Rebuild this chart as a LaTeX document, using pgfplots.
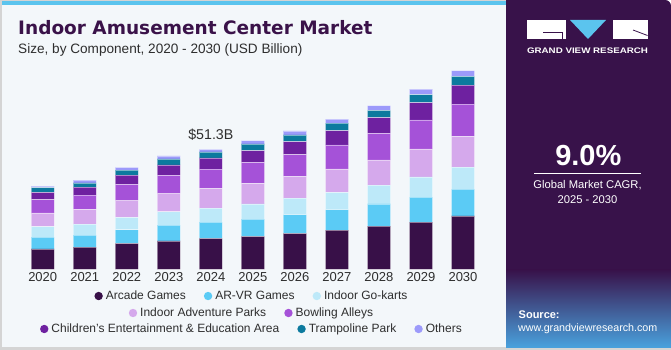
\documentclass[border=0pt]{standalone}
\usepackage{pgfplots}
\usepackage{pgfplotstable}
\pgfplotsset{compat=1.18}
\usepackage{fontspec}
\setmainfont{Liberation Sans}
\newfontfamily\titlefont{DejaVu Sans}
\definecolor{c1}{HTML}{381048}
\definecolor{c2}{HTML}{5BCBF5}
\definecolor{c3}{HTML}{BDE9F9}
\definecolor{c4}{HTML}{D5A9EC}
\definecolor{c5}{HTML}{A552D8}
\definecolor{c6}{HTML}{6E21A0}
\definecolor{c7}{HTML}{0C7A9E}
\definecolor{c8}{HTML}{9C9AFA}
\definecolor{bgl}{HTML}{F3F7FA}
\definecolor{panel}{HTML}{38124A}
\definecolor{strip}{HTML}{5BC4EE}
\definecolor{titlec}{HTML}{3A1249}
\definecolor{txt}{HTML}{2E2E2E}
\definecolor{edge}{HTML}{D4D4D4}
\definecolor{glow}{HTML}{4AA6E2}

\pgfplotstableread{
year arcade arvr kart adv bowl child tramp other
2020 8.7 5.1 4.4 5.9 5.7 3.1 2.0 0.7
2021 9.5 5.1 4.7 6.3 6.1 3.4 1.8 1.2
2022 11.1 5.8 5.3 7.1 7.0 4.0 2.1 1.2
2023 12.1 6.8 5.7 7.7 7.9 4.4 2.6 1.3
2024 13.2 7.0 6.0 8.3 8.3 4.8 2.6 1.1
2025 14.1 7.4 6.5 8.7 9.0 5.0 2.9 1.4
2026 15.4 8.0 7.0 9.2 9.4 5.6 2.9 1.7
2027 16.8 8.7 7.4 10.0 10.3 6.1 3.2 1.7
2028 18.5 9.5 8.0 10.8 11.3 6.7 3.2 2.0
2029 20.2 10.7 8.6 12.0 12.4 7.4 3.4 2.3
2030 22.8 11.5 9.4 13.1 13.8 8.1 3.8 2.4
}\datatable

\pgfplotsset{
  dotleg/.style={legend image code/.code={\fill[##1,draw=none] (4.2pt,0pt) circle (4.2pt);}},
  legrow/.style={
    legend columns=-1,
    legend style={draw=none, fill=none, font=\fontsize{12}{14}\selectfont, text=txt,
      inner sep=0pt, anchor=center,
      /tikz/every even column/.append style={column sep=16pt},
      /tikz/every odd column/.append style={column sep=1pt}},
  },
  bars/.style={fill=#1, draw=white, draw opacity=0.45, line width=0.6pt, dotleg},
}

\begin{document}
\begin{tikzpicture}[x=1pt,y=1pt]
% backgrounds
\fill[white] (0,0) rectangle (671,350);
\fill[edge] (0,0) rectangle (506,350);
\fill[bgl] (2,3) rectangle (506,345);
\fill[strip] (2,345) rectangle (506,349.3);
\fill[panel] (506,0) -- (506,350) -- (665,350) arc[start angle=90,end angle=0,radius=6] -- (671,0) -- cycle;
\shade[top color=panel, bottom color=glow] (506,0) rectangle (671,80);
\fill[edge] (506,0) rectangle (671,1.5);
% logo
\fill[white] (527,311) rectangle (566,330);
\draw[panel, line width=0.8pt] (543,317.7) -- (562.5,317.7) -- (562.5,311);
\fill[strip] (570,330) -- (606,330) -- (588,311) -- cycle;
\fill[white] (612.5,311) rectangle (648,330);
\draw[panel, line width=0.8pt] (633,320) -- (647.5,314.5);
\node[anchor=base, text=white, inner sep=0pt] at (587.5,296.7)
  {\resizebox{121pt}{5.6pt}{\bfseries GRAND VIEW RESEARCH}};
% CAGR
\node[anchor=base, text=white, inner sep=0pt, font=\fontsize{29}{32}\selectfont\bfseries] at (588.3,184.3) {9.0\%};
\draw[white, line width=0.9pt] (534,176.7) -- (641,176.7);
\node[anchor=base, text=white, inner sep=0pt, font=\fontsize{11.2}{13}\selectfont] at (587.5,161.3) {Global Market CAGR,};
\node[anchor=base, text=white, inner sep=0pt, font=\fontsize{11.2}{13}\selectfont] at (587.5,146) {2025 - 2030};
% source
\node[anchor=base west, text=white, inner sep=0pt, font=\fontsize{11}{13}\selectfont\bfseries] at (518.5,31) {Source:};
\node[anchor=base west, text=white, inner sep=0pt, font=\fontsize{10.7}{13}\selectfont] at (518,18) {www.grandviewresearch.com};
% titles
\node[anchor=base west, text=titlec, inner sep=0pt, font=\titlefont\fontsize{18.5}{21}\selectfont\bfseries] at (18,315) {Indoor Amusement Center Market};
\node[anchor=base west, text=txt, inner sep=0pt, font=\fontsize{13.6}{16}\selectfont] at (18,296) {Size, by Component, 2020 - 2030 (USD Billion)};

\begin{axis}[
  at={(17.5pt,80.7pt)}, anchor=south west,
  scale only axis, width=470.7pt, height=210.5pt,
  ybar stacked, bar width=23.3pt,
  xmin=2019.4, xmax=2030.6, ymin=0, ymax=90,
  enlargelimits=false, clip=false,
  axis line style={draw=none}, major tick length=0pt,
  ytick=\empty,
  xtick={2020,2021,2022,2023,2024,2025,2026,2027,2028,2029,2030},
  xticklabels={2020,2021,2022,2023,2024,2025,2026,2027,2028,2029,2030},
  xticklabel style={font=\fontsize{13}{15}\selectfont, text=txt, inner sep=2.5pt},
  legrow,
  legend style={at={(0.498,-0.127)}},
]
\addplot[bars=c1] table[x=year,y=arcade]{\datatable};
\addplot[bars=c2] table[x=year,y=arvr]{\datatable};
\addplot[bars=c3] table[x=year,y=kart]{\datatable};
\addplot[bars=c4] table[x=year,y=adv]{\datatable};
\addplot[bars=c5] table[x=year,y=bowl]{\datatable};
\addplot[bars=c6] table[x=year,y=child]{\datatable};
\addplot[bars=c7] table[x=year,y=tramp]{\datatable};
\addplot[bars=c8] table[x=year,y=other]{\datatable};
\legend{Arcade Games,AR-VR Games,Indoor Go-karts}
\node[anchor=base, font=\fontsize{14.2}{16}\selectfont, text=txt, inner sep=0pt] at (axis cs:2024,51.3) [yshift=10.3pt] {\$51.3B};
\end{axis}

\begin{axis}[
  at={(17.5pt,80.7pt)}, anchor=south west,
  scale only axis, width=470.7pt, height=210.5pt,
  xmin=0, xmax=1, ymin=0, ymax=1, hide axis,
  legrow, dotleg,
  legend style={at={(0.498,-0.2076)}},
]
\addlegendimage{fill=c4}\addlegendentry{Indoor Adventure Parks}
\addlegendimage{fill=c5}\addlegendentry{Bowling Alleys}
\end{axis}

\begin{axis}[
  at={(17.5pt,80.7pt)}, anchor=south west,
  scale only axis, width=470.7pt, height=210.5pt,
  xmin=0, xmax=1, ymin=0, ymax=1, hide axis,
  legrow, dotleg,
  legend style={at={(0.498,-0.2836)}},
]
\addlegendimage{fill=c6}\addlegendentry{Children's Entertainment \& Education Area}
\addlegendimage{fill=c7}\addlegendentry{Trampoline Park}
\addlegendimage{fill=c8}\addlegendentry{Others}
\end{axis}

\pgfresetboundingbox
\useasboundingbox (0,0) rectangle (671,350);
\end{tikzpicture}
\end{document}
